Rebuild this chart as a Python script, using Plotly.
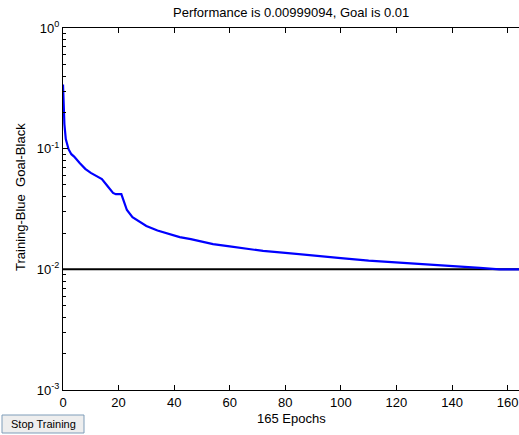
import plotly.graph_objects as go

# ---- data ----
epochs = [0, 0.5, 1, 2, 3, 4, 6, 8, 10, 12, 14, 16, 18, 19, 21, 22, 23, 25, 28, 30,
          34, 38, 42, 46, 54, 60, 72, 80, 90, 100, 110, 121, 130, 136, 150, 157, 165]
performance = [0.34, 0.16, 0.12, 0.099, 0.09, 0.086, 0.076, 0.068, 0.063, 0.059, 0.056,
               0.049, 0.043, 0.042, 0.042, 0.036, 0.031, 0.027, 0.0245, 0.0229,
               0.021, 0.0197, 0.0185, 0.0178, 0.0162, 0.0155, 0.0142, 0.0137, 0.0131,
               0.0124, 0.0118, 0.0114, 0.0111, 0.0109, 0.0103, 0.0100, 0.00999094]
goal_x = [0, 165]
goal_y = [0.01, 0.01]

x_ticks = [0, 20, 40, 60, 80, 100, 120, 140, 160]
y_ticks = [1e-3, 1e-2, 1e-1, 1e0]
y_ticktext = ["10<sup>-3</sup>", "10<sup>-2</sup>", "10<sup>-1</sup>", "10<sup>0</sup>"]
y_minor = [m * 10 ** e for e in (-3, -2, -1) for m in range(2, 10)]

title_text = "Performance is 0.00999094, Goal is 0.01"
xlabel_text = "165 Epochs"
ylabel_text = "Training-Blue  Goal-Black"
button_text = "Stop Training"

W, H = 519, 435
L, T, B, R = 63, 28, 45, 0
PW, PH = W - L - R, H - T - B

def px(xp):
    return (xp - L) / PW

def py(yp):
    return (H - B - yp) / PH

FONT = "Liberation Sans, Arial, Helvetica, sans-serif"

fig = go.Figure()
fig.add_trace(go.Scatter(x=goal_x, y=goal_y, mode="lines",
                         line=dict(color="black", width=2), hoverinfo="skip"))
fig.add_trace(go.Scatter(x=epochs, y=performance, mode="lines",
                         line=dict(color="#0000ff", width=2.2), hoverinfo="skip"))

fig.update_layout(
    width=W, height=H,
    margin=dict(l=L, r=R, t=T, b=B, pad=0),
    paper_bgcolor="white", plot_bgcolor="white",
    showlegend=False,
    font=dict(family=FONT, size=13, color="black"),
    xaxis=dict(range=[0, 164.1], tickmode="array", tickvals=x_ticks,
               ticks="inside", ticklen=5, tickwidth=1, tickcolor="black",
               showline=True, linecolor="black", linewidth=1.2, mirror="ticks",
               showgrid=False, zeroline=False,
               tickfont=dict(family=FONT, size=13, color="black")),
    yaxis=dict(type="log", range=[-3, 0], tickmode="array", tickvals=y_ticks,
               ticktext=y_ticktext,
               ticks="inside", ticklen=5, tickwidth=1, tickcolor="black",
               showline=True, linecolor="black", linewidth=1.2, mirror=False,
               showgrid=False, zeroline=False,
               minor=dict(tickmode="array", tickvals=y_minor, ticks="inside",
                          ticklen=3, tickwidth=1, tickcolor="black", showgrid=False),
               tickfont=dict(family=FONT, size=13, color="black")),
)

fig.add_annotation(text=title_text, xref="paper", yref="paper", x=0.5, y=1,
                   yshift=16, xanchor="center", yanchor="middle", showarrow=False,
                   font=dict(family=FONT, size=13, color="black"))
fig.add_annotation(text=xlabel_text, xref="paper", yref="paper", x=0.5, y=0,
                   yshift=-28, xanchor="center", yanchor="middle", showarrow=False,
                   font=dict(family=FONT, size=13, color="black"))
fig.add_annotation(text=ylabel_text, xref="paper", yref="paper", x=px(20), y=py(197),
                   textangle=-90, xanchor="center", yanchor="middle", showarrow=False,
                   font=dict(family=FONT, size=13, color="black"))

# Stop Training button
fig.add_shape(type="rect", xref="paper", yref="paper",
              x0=px(2), x1=px(84), y0=py(433), y1=py(415),
              line=dict(color="#7f9db9", width=1), fillcolor="#eeeeee", layer="above")
fig.add_annotation(text=button_text, xref="paper", yref="paper", x=px(43), y=py(424),
                   xanchor="center", yanchor="middle", showarrow=False,
                   font=dict(family=FONT, size=11, color="black"))

fig.write_html("out.html",
               config={"displayModeBar": False},
               post_script="document.body.style.margin='0';"
                           "document.documentElement.style.overflow='hidden';")
